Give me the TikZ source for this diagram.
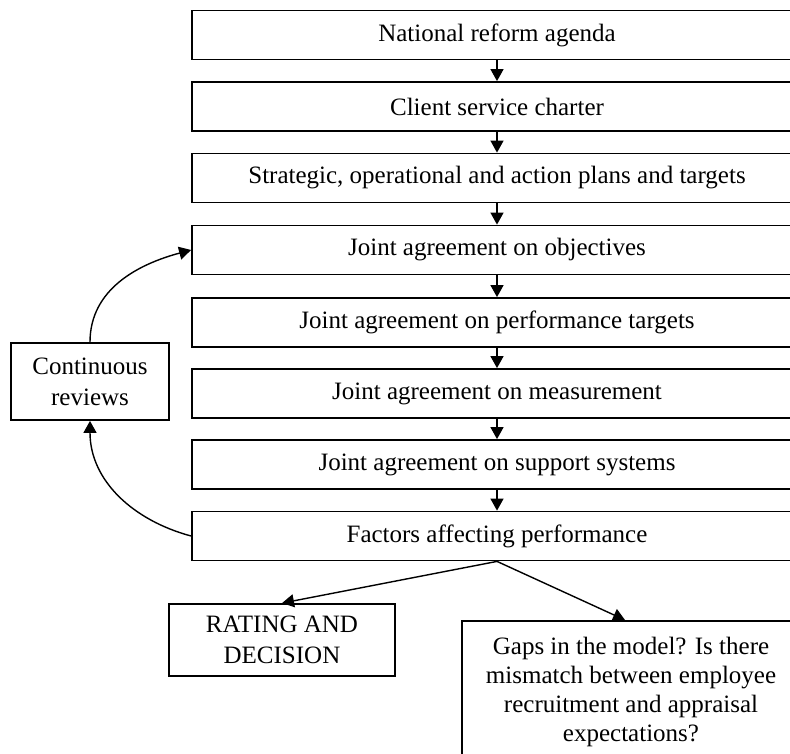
\documentclass[tikz,border=0pt]{standalone}
\usepackage{fontspec}
\setmainfont{Liberation Serif}
\usetikzlibrary{arrows.meta}

\tikzset{
  stage/.style={draw, line width=0.9pt, minimum width=305pt, minimum height=24.5pt, inner sep=0pt},
  sidebox/.style={draw, line width=0.9pt, align=center, inner sep=0pt},
  flow/.style={-{Triangle[length=6pt,width=6.5pt]}, line width=0.7pt}
}

\begin{document}
\begin{tikzpicture}[x=0.5pt, y=0.5pt, font=\fontsize{12.5}{15.5}\selectfont]
 \useasboundingbox (0,0) rectangle (790,-753);

 \node[stage] (agenda) at (497,-35) {National reform agenda};
 \node[stage] (charter) at (497,-106.5) {Client service charter};
 \node[stage] (plans) at (497,-178) {Strategic, operational and action plans and targets};
 \node[stage] (objectives) at (497,-250) {Joint agreement on objectives};
 \node[stage] (targets) at (497,-322.5) {Joint agreement on performance targets};
 \node[stage] (measure) at (497,-393.5) {Joint agreement on measurement};
 \node[stage] (support) at (497,-464.5) {Joint agreement on support systems};
 \node[stage] (factors) at (497,-536) {Factors affecting performance};

 \node[sidebox, minimum width=79pt, minimum height=38.5pt] (reviews) at (90,-381.5) {Continuous\\reviews};
 \node[sidebox, minimum width=113pt, minimum height=36pt] (rating) at (282,-640) {RATING AND\\DECISION};
 \node[sidebox, minimum width=169pt, inner ysep=8pt, anchor=north, font=\fontsize{12.5}{14.5}\selectfont] (gaps) at (631,-620)
   {Gaps in the model? Is there\\mismatch between employee\\recruitment and appraisal\\expectations?};

 \draw[flow] (agenda) -- (charter);
 \draw[flow] (charter) -- (plans);
 \draw[flow] (plans) -- (objectives);
 \draw[flow] (objectives) -- (targets);
 \draw[flow] (targets) -- (measure);
 \draw[flow] (measure) -- (support);
 \draw[flow] (support) -- (factors);

 \draw[flow] (reviews.north) to[out=90, in=195] (objectives.west);
 \draw[flow] (factors.west) to[out=165, in=-90] (reviews.south);

 \draw[flow] (factors.south) -- (rating.north);
 \draw[flow] (factors.south) -- ([xshift=-3pt]gaps.north);
\end{tikzpicture}
\end{document}
